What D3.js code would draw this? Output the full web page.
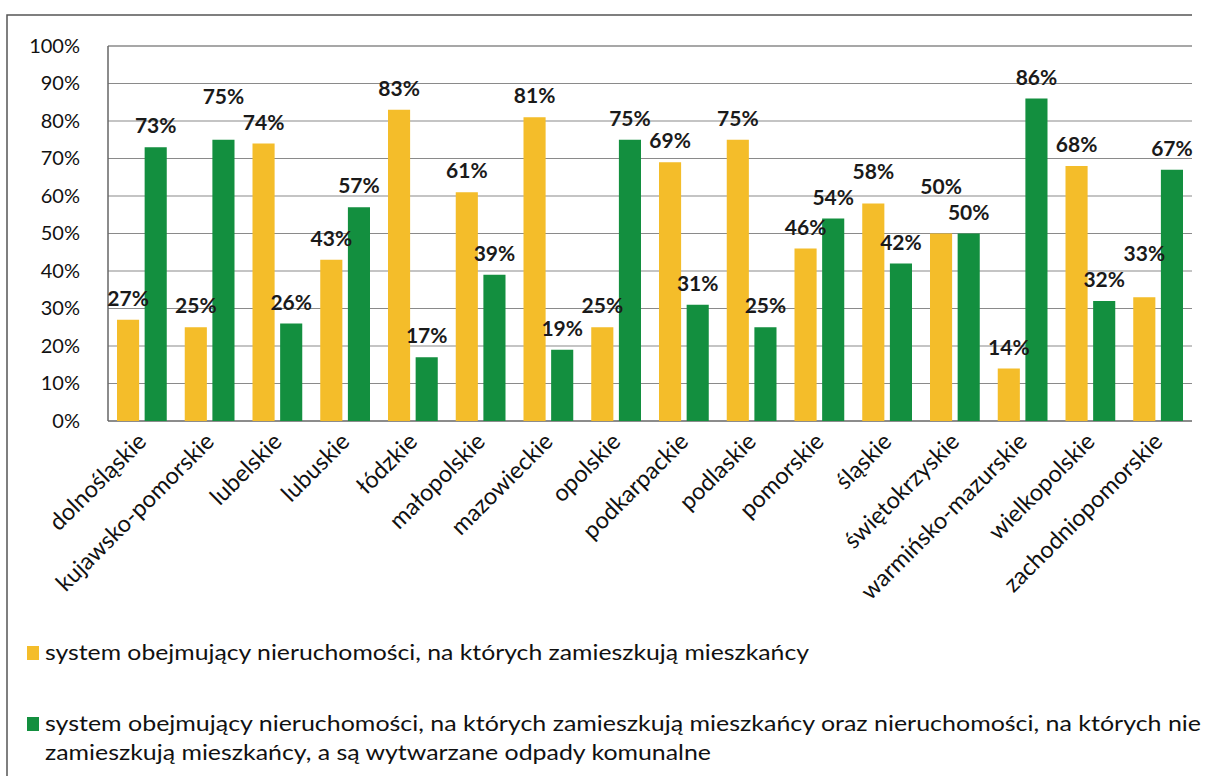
<!DOCTYPE html>
<html lang="pl">
<head>
    <meta charset="UTF-8">
    <title>System gospodarowania odpadami</title>
    <style>
        body { margin: 0; background: #fff; }
        svg { display: block; font-family: Lato, "Open Sans", sans-serif; }
    </style>
</head>
<body>
    <div id="wrapper"></div>
    <script src="https://d3js.org/d3.v7.min.js"></script>
    <script>
        // województwa
        const categories = ['dolnośląskie', 'kujawsko-pomorskie', 'lubelskie', 'lubuskie', 'łódzkie',
            'małopolskie', 'mazowieckie', 'opolskie', 'podkarpackie', 'podlaskie', 'pomorskie',
            'śląskie', 'świętokrzyskie', 'warmińsko-mazurskie', 'wielkopolskie', 'zachodniopomorskie'];

        // system obejmujący nieruchomości zamieszkałe
        const residential = [27, 25, 74, 43, 83, 61, 81, 25, 69, 75, 46, 58, 50, 14, 68, 33];
        // system obejmujący nieruchomości zamieszkałe i niezamieszkałe
        const mixed = [73, 75, 26, 57, 17, 39, 19, 75, 31, 25, 54, 42, 50, 86, 32, 67];

        const yTicks = [0, 10, 20, 30, 40, 50, 60, 70, 80, 90, 100];
        const seriesNames = [
            'system obejmujący nieruchomości, na których zamieszkują mieszkańcy',
            'system obejmujący nieruchomości, na których zamieszkują mieszkańcy oraz nieruchomości, na których nie',
            'zamieszkują mieszkańcy, a są wytwarzane odpady komunalne'
        ];
        const colors = ['#f4bd2a', '#138f3f'];

        const width = 1209, height = 776;
        const plot = { left: 108, right: 1192, top: 46, bottom: 421 };

        const svg = d3.select('#wrapper').append('svg')
            .attr('width', width)
            .attr('height', height);

        // ramka skanu
        svg.append('path')
            .attr('d', 'M7,776V15H1192')
            .attr('fill', 'none')
            .attr('stroke', '#555')
            .attr('stroke-width', 1.5);

        const x0 = d3.scaleBand()
            .domain(categories)
            .range([plot.left, plot.right]);

        const x1 = d3.scaleBand()
            .domain([0, 1])
            .range([9, x0.bandwidth() - 9])
            .paddingInner(0.2);

        const y = d3.scaleLinear()
            .domain([0, 100])
            .range([plot.bottom, plot.top]);

        // linie siatki
        svg.append('g')
            .selectAll('line')
            .data(yTicks)
            .enter()
            .append('line')
            .attr('x1', plot.left)
            .attr('x2', plot.right)
            .attr('y1', d => y(d))
            .attr('y2', d => y(d))
            .attr('stroke', d => d === 0 ? '#666' : '#8a8a8a')
            .attr('stroke-width', d => d === 0 || d === 100 ? 1.5 : 1.2);

        svg.append('line')
            .attr('x1', plot.left).attr('x2', plot.left)
            .attr('y1', plot.top).attr('y2', plot.bottom)
            .attr('stroke', '#666')
            .attr('stroke-width', 1.5);

        // oś Y
        const yAxis = svg.append('g')
            .attr('transform', `translate(${plot.left - 26},0)`)
            .call(d3.axisLeft(y).tickValues(yTicks).tickFormat(d => d + '%').tickSize(0));
        yAxis.select('.domain').remove();
        yAxis.selectAll('text')
            .attr('font-size', 20)
            .attr('fill', '#111')
            .attr('dx', 1)
            .attr('font-family', 'Lato, sans-serif');

        // słupki
        const rows = categories.map((c, i) => ({ cat: c, vals: [residential[i], mixed[i]] }));

        const groups = svg.append('g')
            .selectAll('g')
            .data(rows)
            .enter()
            .append('g')
            .attr('transform', d => `translate(${x0(d.cat)},0)`);

        groups.selectAll('rect')
            .data(d => d.vals.map((v, k) => ({ k, v })))
            .enter()
            .append('rect')
            .attr('x', d => x1(d.k))
            .attr('y', d => y(d.v))
            .attr('width', x1.bandwidth())
            .attr('height', d => plot.bottom - y(d.v))
            .attr('fill', d => colors[d.k]);

        // etykiety wartości - wyższa z dwóch nachodzących etykiet idzie w górę
        const labels = [];
        rows.forEach(r => r.vals.forEach((v, k) => {
            labels.push({ v, cx: x0(r.cat) + x1(k) + x1.bandwidth() / 2, by: y(v) - 14 });
        }));
        const labelW = 44, labelH = 20;
        labels.forEach((l, i) => {
            if (i === 0) return;
            const p = labels[i - 1];
            if (Math.abs(l.cx - p.cx) < labelW && Math.abs(l.by - p.by) < labelH + 2) {
                const top = l.v > p.v ? l : p;
                const other = top === l ? p : l;
                top.by = Math.min(top.by, other.by - labelH - 6);
            }
        });

        svg.append('g')
            .selectAll('text')
            .data(labels)
            .enter()
            .append('text')
            .attr('x', d => d.cx)
            .attr('y', d => d.by)
            .attr('text-anchor', 'middle')
            .attr('font-size', 21)
            .attr('font-weight', 'bold')
            .attr('fill', '#1a1a1a')
            .text(d => d.v + '%');

        // etykiety kategorii
        svg.append('g')
            .selectAll('text')
            .data(categories)
            .enter()
            .append('text')
            .attr('transform', d => `translate(${x0(d) + x0.bandwidth() / 2 + 6},${plot.bottom + 22}) rotate(-45)`)
            .attr('text-anchor', 'end')
            .attr('font-size', 23.5)
            .attr('fill', '#111')
            .text(d => d);

        // legenda
        const legend = svg.append('g');
        const legendRows = [
            { k: 0, y: 660, lines: [seriesNames[0]], lens: [764] },
            { k: 1, y: 731, lines: [seriesNames[1], seriesNames[2]], lens: [1156, 666] }
        ];
        legendRows.forEach(r => {
            legend.append('rect')
                .attr('x', 27)
                .attr('y', r.y - 14)
                .attr('width', 12)
                .attr('height', 14)
                .attr('fill', colors[r.k]);
            r.lines.forEach((t, j) => {
                legend.append('text')
                    .attr('x', 45)
                    .attr('y', r.y + j * 29)
                    .attr('font-size', 21)
                    .attr('fill', '#111')
                    .attr('textLength', r.lens[j])
                    .attr('lengthAdjust', 'spacingAndGlyphs')
                    .text(t);
            });
        });
    </script>
</body>
</html>
